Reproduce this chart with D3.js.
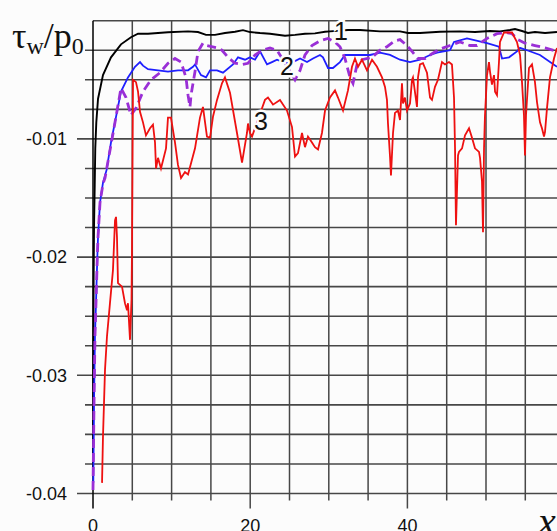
<!DOCTYPE html>
<html>
<head>
<meta charset="utf-8">
<script src="https://cdn.jsdelivr.net/npm/d3@7"></script>
<style>
  body { margin: 0; background: #fcfcfc; }
  svg { display: block; }
</style>
</head>
<body>
<svg id="chart" width="557" height="531"></svg>
<script>
// curve 1 (black) : [x, tau_w/p0]
const curve1 = [
  [0, -0.0385], [0.03, -0.030], [0.08, -0.022], [0.13, -0.0175], [0.22, -0.0139],
  [0.29, -0.0108], [0.42, -0.0086], [0.64, -0.0066], [1.27, -0.0046], [2.29, -0.0031],
  [3.56, -0.0020], [4.83, -0.0014], [5.73, -0.0011], [7.0, -0.0011], [9.54, -0.00098],
  [12.09, -0.0009], [13.36, -0.00096], [14.38, -0.0012], [15.52, -0.0012], [16.79, -0.00104],
  [18.07, -0.00093], [19.08, -0.0008], [19.97, -0.00096], [21.25, -0.00104], [22.52, -0.0011],
  [24.43, -0.00127], [25.7, -0.0012], [26.97, -0.0011], [28.24, -0.00107], [29.52, -0.00093],
  [30.15, -0.0009], [32.44, -0.00079], [33.97, -0.00079], [36.51, -0.0009], [39.06, -0.0009],
  [40.08, -0.00104], [41.6, -0.00104], [44.15, -0.00093], [46.69, -0.0009], [48.6, -0.00096],
  [50.51, -0.00087], [51.78, -0.0009], [53.05, -0.00079], [53.69, -0.0007], [54.58, -0.00087],
  [55.34, -0.00104], [56.23, -0.00096], [57.51, -0.00104], [59.03, -0.00096]
];

// curve 2 (blue, solid)
const curve2 = [
  [0.04, -0.0391], [0.13, -0.0323], [0.25, -0.0267], [0.38, -0.0239], [0.55, -0.0200],
  [0.64, -0.0183], [0.89, -0.0154], [1.27, -0.0137], [1.74, -0.0126], [2.29, -0.0103],
  [3.56, -0.0060], [4.45, -0.0048], [5.34, -0.0039], [5.98, -0.0035], [6.36, -0.0038],
  [7.0, -0.0041], [8.27, -0.0042], [9.54, -0.0043], [10.81, -0.0042], [12.09, -0.0042],
  [12.72, -0.0039], [12.98, -0.0037], [13.74, -0.0046], [14.38, -0.0048], [14.89, -0.0042],
  [15.78, -0.0042], [16.54, -0.0044], [17.81, -0.0037], [18.45, -0.0031], [19.34, -0.0033],
  [19.97, -0.0031], [20.61, -0.0033], [21.25, -0.0026], [22.14, -0.0037], [22.77, -0.0035],
  [23.41, -0.0033], [24.5, -0.0036], [25.45, -0.0035], [26.34, -0.0032], [27.23, -0.0035],
  [27.99, -0.0032], [28.88, -0.0029], [29.26, -0.0031], [29.9, -0.0040], [30.53, -0.0040],
  [31.42, -0.0035], [32.06, -0.0029], [33.33, -0.0029], [35.24, -0.0029], [36.51, -0.0027],
  [37.79, -0.0029], [39.06, -0.0033], [40.33, -0.0035], [41.6, -0.0033], [42.88, -0.0029],
  [43.77, -0.0027], [45.42, -0.0025], [45.93, -0.0018], [47.58, -0.0015], [50.13, -0.0019],
  [51.65, -0.0022], [52.04, -0.0032], [52.93, -0.0031], [53.94, -0.0026], [54.33, -0.0023],
  [55.22, -0.0025], [56.87, -0.0029], [59.03, -0.0039]
];

// curve 2 (violet, dashed)
const curve2b = [
  [0, -0.0397], [0.13, -0.0323], [0.25, -0.0267], [0.38, -0.0239], [0.55, -0.0200],
  [0.64, -0.0183], [0.89, -0.0154], [1.27, -0.0138], [1.53, -0.0133], [2.8, -0.0086],
  [3.56, -0.0057], [4.2, -0.0065], [4.83, -0.0080], [5.47, -0.0074], [6.36, -0.0060],
  [7.38, -0.0050], [8.52, -0.0044], [9.54, -0.0036], [10.43, -0.0032], [11.2, -0.0035],
  [11.83, -0.0048], [12.09, -0.0063], [12.34, -0.0073], [12.47, -0.0063], [12.98, -0.0043],
  [13.36, -0.0026], [13.99, -0.0019], [14.5, -0.0021], [15.78, -0.0023], [16.41, -0.0025],
  [17.18, -0.0031], [18.07, -0.0036], [18.96, -0.0037], [19.72, -0.0036], [20.61, -0.0029],
  [21.5, -0.0025], [22.52, -0.0023], [23.41, -0.0025], [24.17, -0.0033], [25.06, -0.0043],
  [25.7, -0.0050], [26.34, -0.0042], [26.97, -0.0029], [27.86, -0.0021], [28.88, -0.0017],
  [29.9, -0.0015], [30.79, -0.0018], [31.42, -0.0022], [32.06, -0.0032], [32.7, -0.0048],
  [33.08, -0.0053], [33.59, -0.0037], [34.22, -0.0033], [35.5, -0.0031], [36.51, -0.0025],
  [37.4, -0.0022], [38.42, -0.0017], [39.06, -0.0016], [39.95, -0.0021], [40.59, -0.0026],
  [41.35, -0.0032], [42.24, -0.0032], [43.13, -0.0028], [44.15, -0.0024], [45.42, -0.0021],
  [46.69, -0.0018], [47.96, -0.0021], [48.85, -0.0021], [50.13, -0.0015], [51.4, -0.0011],
  [52.67, -0.0010], [53.31, -0.0011], [54.07, -0.0016], [54.96, -0.0019], [56.23, -0.0021],
  [57.51, -0.0023], [59.03, -0.0026]
];

// curve 3 (red)
const curve3 = [
  [1.15, -0.0391], [1.27, -0.0352], [1.53, -0.0295], [1.78, -0.0267], [2.16, -0.0239],
  [2.54, -0.0211], [2.8, -0.0169], [2.93, -0.0166], [3.05, -0.0183], [3.18, -0.0222],
  [3.69, -0.0225], [4.07, -0.0239], [4.33, -0.0245], [4.45, -0.0239], [4.71, -0.0270],
  [4.9, -0.0236], [4.96, -0.0194], [5.09, -0.0050], [5.47, -0.0052], [5.73, -0.0060],
  [5.98, -0.0077], [6.36, -0.0086], [6.74, -0.0097], [7.25, -0.0091], [7.63, -0.0088],
  [7.89, -0.0103], [8.02, -0.0125], [8.27, -0.0116], [8.65, -0.0125], [9.29, -0.0108],
  [9.54, -0.0082], [9.92, -0.0082], [10.43, -0.0103], [10.81, -0.0122], [11.2, -0.0133],
  [11.7, -0.0128], [12.09, -0.0130], [12.98, -0.0108], [13.61, -0.0082], [13.99, -0.0073],
  [14.5, -0.0098], [14.89, -0.0099], [15.27, -0.0081], [15.78, -0.0067], [16.41, -0.0053],
  [16.79, -0.0048], [17.43, -0.0061], [18.32, -0.0095], [18.96, -0.0120], [19.59, -0.0095],
  [19.72, -0.0087], [19.97, -0.0095], [20.23, -0.0098], [21.88, -0.0067], [22.26, -0.0065],
  [22.9, -0.0071], [23.79, -0.0067], [24.68, -0.0076], [25.32, -0.0090], [25.7, -0.0115],
  [26.08, -0.0112], [26.59, -0.0095], [26.97, -0.0107], [27.35, -0.0098], [27.86, -0.0103],
  [28.24, -0.0107], [28.63, -0.0109], [29.13, -0.0095], [29.52, -0.0076], [30.15, -0.0065],
  [30.79, -0.0059], [31.17, -0.0065], [31.81, -0.0076], [32.44, -0.0059], [32.95, -0.0039],
  [33.33, -0.0032], [33.72, -0.0039], [34.22, -0.0033], [34.86, -0.0042], [35.5, -0.0033],
  [36.13, -0.0039], [36.77, -0.0048], [37.15, -0.0056], [37.4, -0.0067], [37.53, -0.0087],
  [37.79, -0.0115], [37.91, -0.0131], [38.17, -0.0095], [38.42, -0.0078], [38.8, -0.0076],
  [39.06, -0.0084], [39.31, -0.0053], [39.44, -0.0070], [39.69, -0.0065], [39.95, -0.0076],
  [40.33, -0.0070], [40.59, -0.0050], [40.71, -0.0048], [41.22, -0.0073], [41.35, -0.0048],
  [41.6, -0.0037], [41.98, -0.0036], [42.49, -0.0044], [42.88, -0.0065], [43.13, -0.0067],
  [43.51, -0.0056], [43.89, -0.0050], [44.4, -0.0035], [44.78, -0.0037], [45.29, -0.0035],
  [45.67, -0.0037], [45.93, -0.0065], [46.06, -0.0108], [46.18, -0.0173], [46.44, -0.0114],
  [46.56, -0.0111], [46.95, -0.0108], [47.33, -0.0097], [47.84, -0.0091], [48.22, -0.0099],
  [48.6, -0.0108], [49.11, -0.0111], [49.24, -0.0116], [49.49, -0.0136], [49.62, -0.0179],
  [49.75, -0.0108], [49.87, -0.0080], [50.13, -0.0046], [50.38, -0.0035], [50.51, -0.0043],
  [50.76, -0.0054], [51.02, -0.0046], [51.15, -0.0060], [51.4, -0.0063], [51.65, -0.0035],
  [51.78, -0.0018], [52.29, -0.0010], [52.67, -0.0010], [53.31, -0.0010], [53.94, -0.0018],
  [54.33, -0.0029], [54.58, -0.0052], [54.83, -0.0080], [54.96, -0.0114], [55.09, -0.0080],
  [55.47, -0.0040], [55.85, -0.0037], [56.23, -0.0052], [56.49, -0.0069], [56.87, -0.0086],
  [57.12, -0.0091], [57.38, -0.0098], [57.51, -0.0094], [57.76, -0.0074], [58.14, -0.0048],
  [58.65, -0.0032], [59.03, -0.0023]
];

const xGridValues = d3.range(0, 60, 5);
const yGridValues = d3.range(0, 17).map(i => -i * 0.0025);
const xTickLabels = [0, 20, 40];
const yTickLabels = [-0.01, -0.02, -0.03, -0.04];
const curveLabels = [
  { text: "1", x: 31.55, y: -0.00163 },
  { text: "2", x: 24.68, y: -0.00459 },
  { text: "3", x: 21.37, y: -0.00924 }
];

const W = 557, H = 531;
const svg = d3.select("#chart");

const x = d3.scaleLinear().domain([0, 60]).range([93, 93 + 60 * 7.86]);
const y = d3.scaleLinear().domain([-0.04, 0]).range([493.5, 20.7]);

const gridColor = "#474747";

// horizontal grid lines, ticks stick out to the left
svg.append("g")
  .selectAll("line")
  .data(yGridValues)
  .join("line")
  .attr("x1", function(d, i) {
    if (i === 0) return x(0);
    return i % 4 === 0 ? x(0) - 16 : x(0) - 8;
  })
  .attr("x2", W)
  .attr("y1", d => y(d))
  .attr("y2", d => y(d))
  .attr("stroke", gridColor)
  .attr("stroke-width", 1.6);

// vertical grid lines, ticks stick out below
svg.append("g")
  .selectAll("line")
  .data(xGridValues)
  .join("line")
  .attr("x1", d => x(d))
  .attr("x2", d => x(d))
  .attr("y1", y(0))
  .attr("y2", d => (d % 20 === 0 ? y(-0.04) + 15 : y(-0.04) + 7))
  .attr("stroke", d => (d === 0 ? "#000" : gridColor))
  .attr("stroke-width", 1.5);

// tick labels
svg.append("g")
  .selectAll("text")
  .data(yTickLabels)
  .join("text")
  .attr("x", 67)
  .attr("y", d => y(d))
  .attr("dy", "0.35em")
  .attr("text-anchor", "end")
  .attr("font-family", "Liberation Sans, Arial, sans-serif")
  .attr("font-size", 18)
  .attr("fill", "#111")
  .text(d => d.toFixed(2));

// bottom labels are cut by the picture edge, as in the original
svg.append("g")
  .selectAll("text")
  .data(xTickLabels)
  .join("text")
  .attr("x", d => x(d))
  .attr("y", 532)
  .attr("text-anchor", "middle")
  .attr("font-family", "Liberation Sans, Arial, sans-serif")
  .attr("font-size", 18)
  .attr("fill", "#111")
  .text(d => d);

// axis titles
svg.append("text")
  .attr("x", 538)
  .attr("y", 535)
  .attr("font-family", "Liberation Serif, Times New Roman, serif")
  .attr("font-style", "italic")
  .attr("font-size", 40)
  .attr("fill", "#111")
  .text("x");

let ylab = svg.append("text")
  .attr("x", 12)
  .attr("y", 48)
  .attr("font-family", "Liberation Serif, Times New Roman, serif")
  .attr("font-size", 36)
  .attr("fill", "#111");
ylab.append("tspan").text("τ");
ylab.append("tspan").attr("font-size", 24).attr("dy", 6).text("w");
ylab.append("tspan").attr("dy", -6).text("/p");
ylab.append("tspan").attr("font-size", 24).attr("dy", 6).text("0");

// curves
const line = d3.line()
  .x(d => x(d[0]))
  .y(d => y(d[1]));

const plot = svg.append("g");

plot.append("path")
  .datum(curve1)
  .attr("d", line)
  .attr("fill", "none")
  .attr("stroke", "#000")
  .attr("stroke-width", 1.9);

plot.append("path")
  .datum(curve2)
  .attr("d", line)
  .attr("fill", "none")
  .attr("stroke", "#1f1fff")
  .attr("stroke-width", 1.8);

plot.append("path")
  .datum(curve2b)
  .attr("d", line)
  .attr("fill", "none")
  .attr("stroke", "#9a2fd6")
  .attr("stroke-width", 2.8)
  .attr("stroke-dasharray", "9,5");

plot.append("path")
  .datum(curve3)
  .attr("d", line)
  .attr("fill", "none")
  .attr("stroke", "#ee1111")
  .attr("stroke-width", 1.8);

// curve numbers
svg.append("g")
  .selectAll("text")
  .data(curveLabels)
  .join("text")
  .attr("x", d => x(d.x))
  .attr("y", d => y(d.y))
  .attr("text-anchor", "middle")
  .attr("font-family", "Liberation Sans, Arial, sans-serif")
  .attr("font-size", 25)
  .attr("fill", "#111")
  .attr("stroke", "#fcfcfc")
  .attr("stroke-width", 5)
  .attr("paint-order", "stroke")
  .text(d => d.text);
</script>
</body>
</html>
